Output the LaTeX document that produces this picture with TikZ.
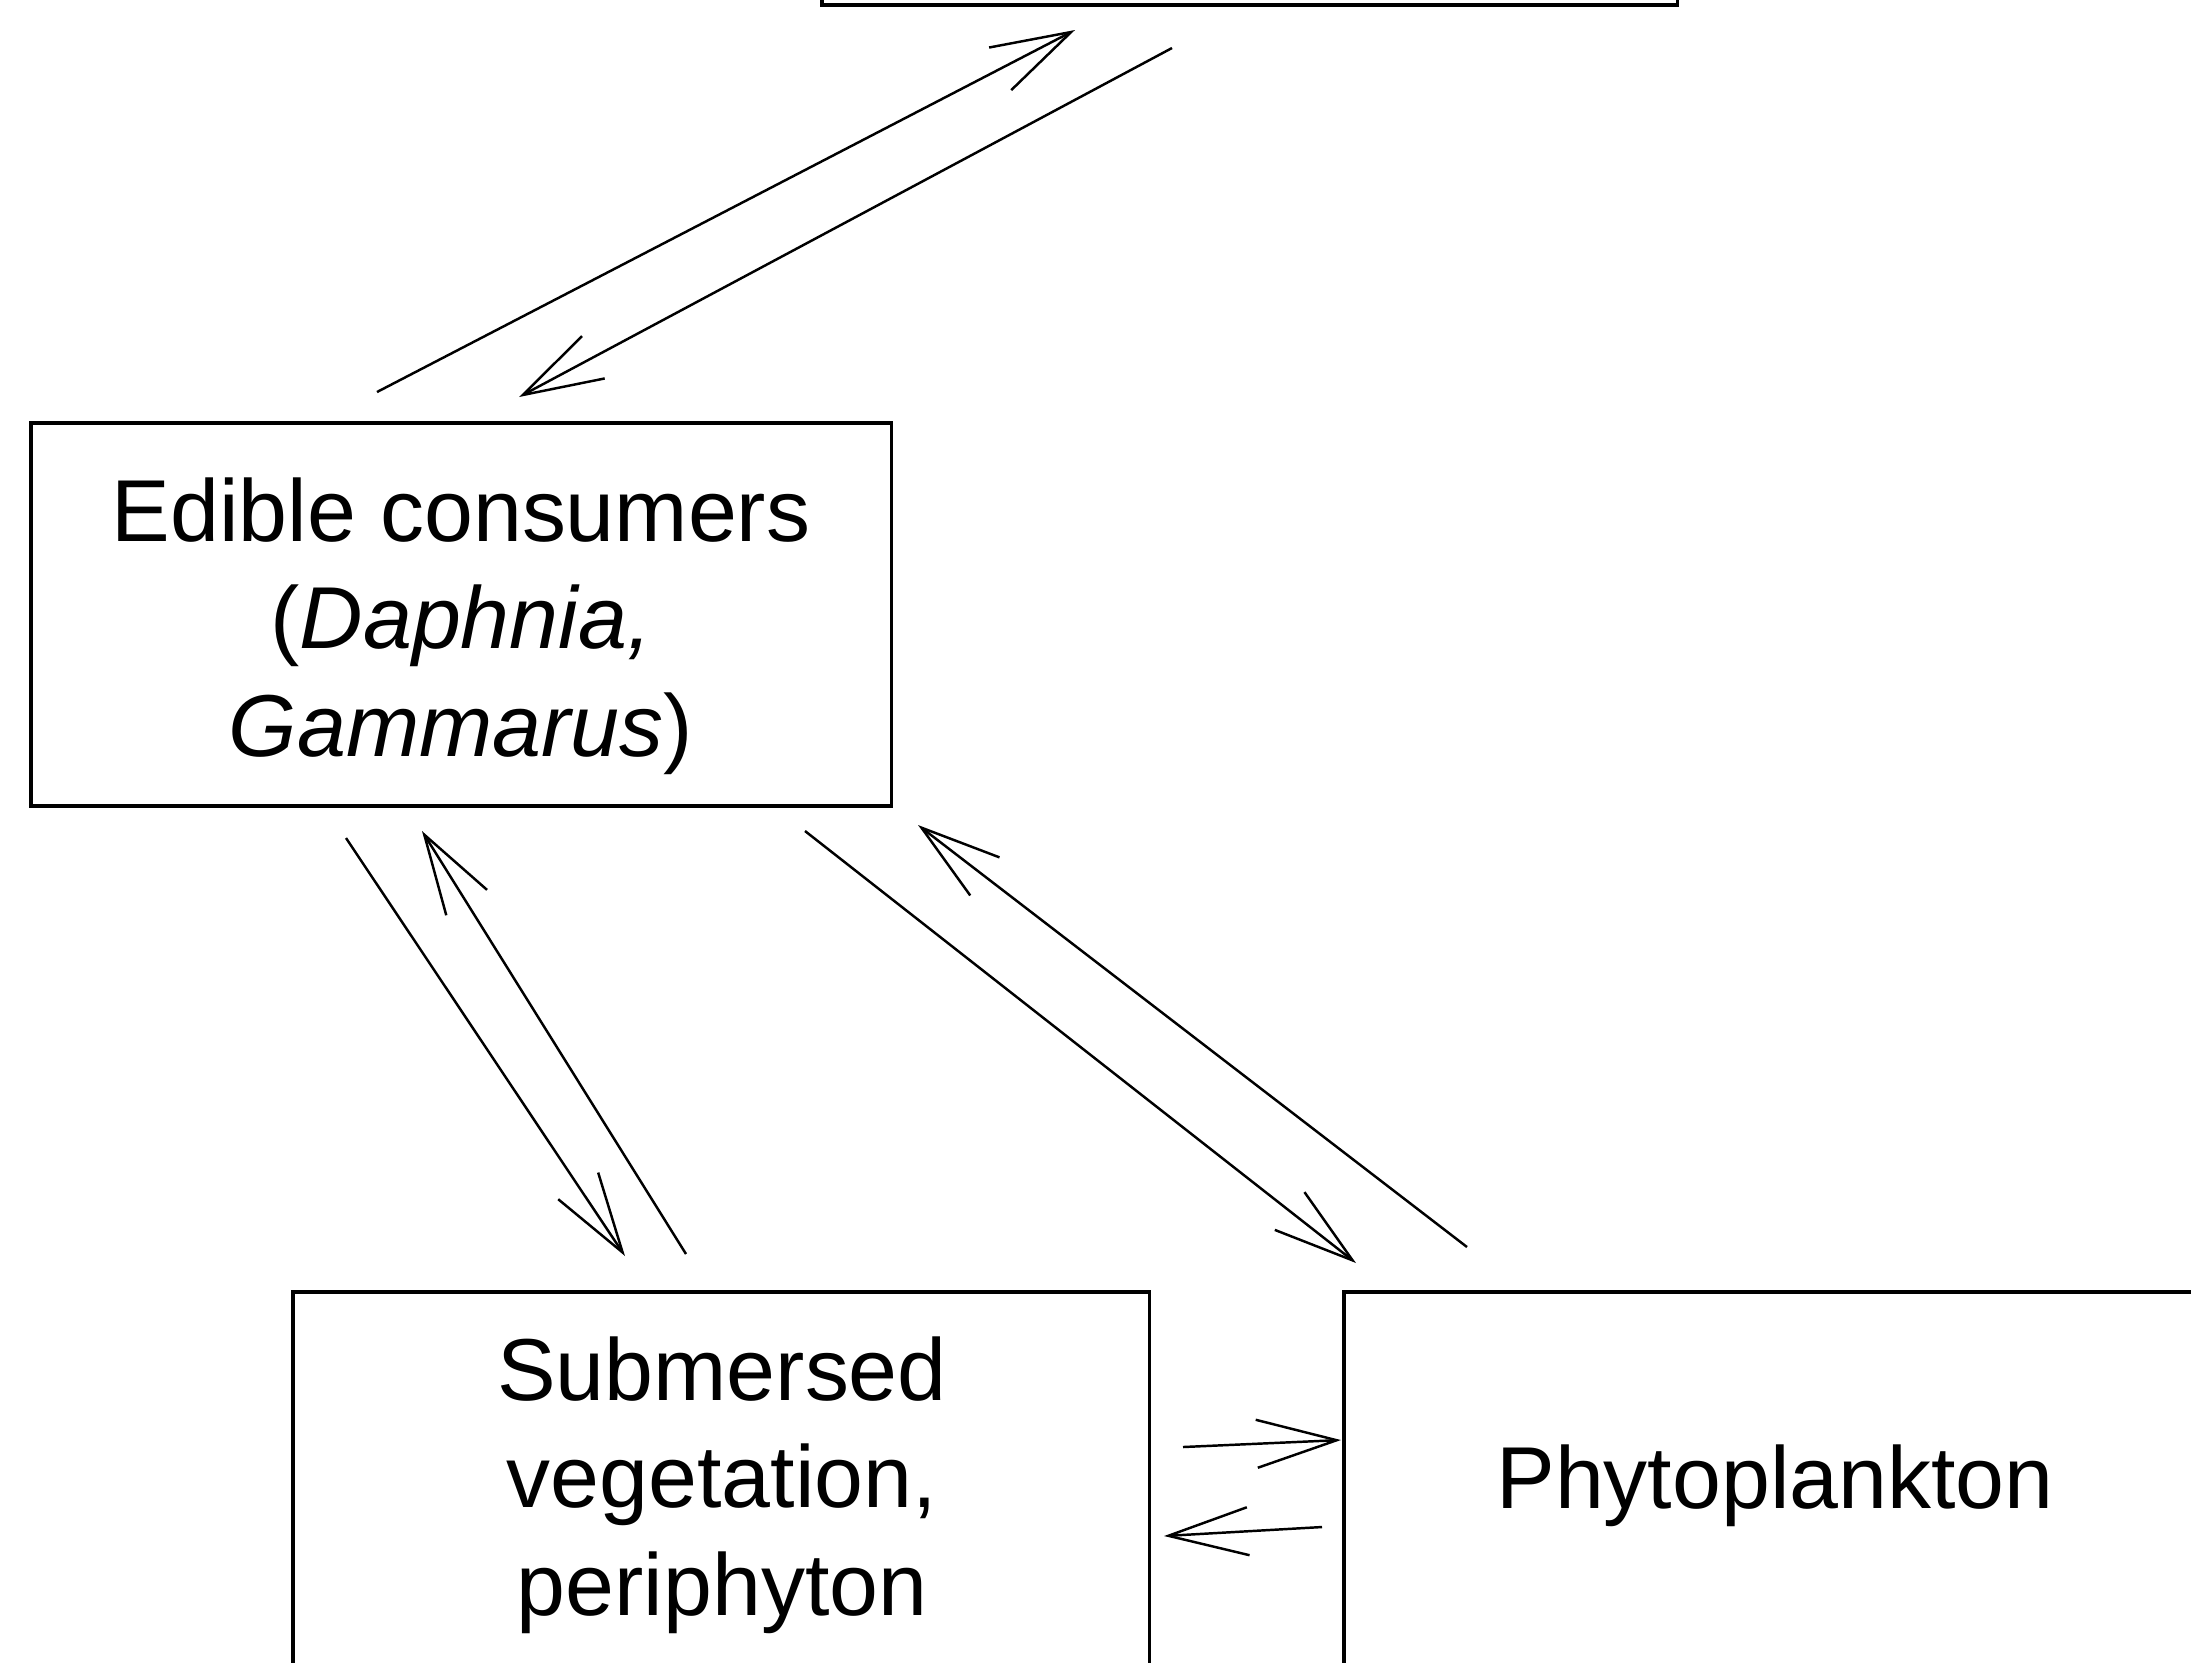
\documentclass[tikz,border=0pt]{standalone}
\usepackage{fontspec}
\setmainfont{Liberation Sans}
\usetikzlibrary{arrows.meta}
\begin{document}
\begin{tikzpicture}[x=0.01cm,y=-0.01cm,
  boxnode/.style={draw, line width=1pt, inner sep=0pt, outer sep=0pt},
  lbl/.style={align=center, inner sep=0pt, font=\fontsize{25}{30.5}\selectfont},
  flow/.style={line width=0.7pt, -{Straight Barb[length=8mm,width=4.8mm]}}]
\useasboundingbox (0,0) rectangle (2191,1662);
\clip (0,0) rectangle (2191,1662);
% boxes
\node[boxnode, minimum width=8.55cm, minimum height=2cm] (top) at (1249.5,-95) {};
\node[boxnode, minimum width=8.60cm, minimum height=3.83cm] (edible) at (461,614.5) {};
\node[boxnode, minimum width=8.56cm, minimum height=4cm] (subm) at (721,1492) {};
\node[boxnode, minimum width=8.62cm, minimum height=4cm] (phyto) at (1775,1492) {};
% labels
\node[lbl] (ediblet) at (461,626) {Edible consumers\\(\textit{Daphnia,}\\\textit{Gammarus})};
\node[lbl] (submt) at (722,1485) {Submersed\\vegetation,\\periphyton};
\node[lbl] (phytot) at (1775,1486) {Phytoplankton};
% connector ends
\coordinate (e1) at (377,392);
\coordinate (t1) at (1075,30);
\coordinate (t2) at (1172,48);
\coordinate (e2) at (519,397);
\coordinate (e3) at (346,838);
\coordinate (s3) at (625,1256);
\coordinate (s4) at (686,1254);
\coordinate (e4) at (422,831);
\coordinate (e5) at (805,831);
\coordinate (p5) at (1356,1263);
\coordinate (p6) at (1467,1247);
\coordinate (e6) at (918,825);
\coordinate (s7) at (1183,1447);
\coordinate (p7) at (1341,1440);
\coordinate (p8) at (1322,1527);
\coordinate (s8) at (1164,1536);
% connectors
\draw[flow] (e1) -- (t1);
\draw[flow] (t2) -- (e2);
\draw[flow] (e3) -- (s3);
\draw[flow] (s4) -- (e4);
\draw[flow] (e5) -- (p5);
\draw[flow] (p6) -- (e6);
\draw[flow] (s7) -- (p7);
\draw[flow] (p8) -- (s8);
\end{tikzpicture}
\end{document}
